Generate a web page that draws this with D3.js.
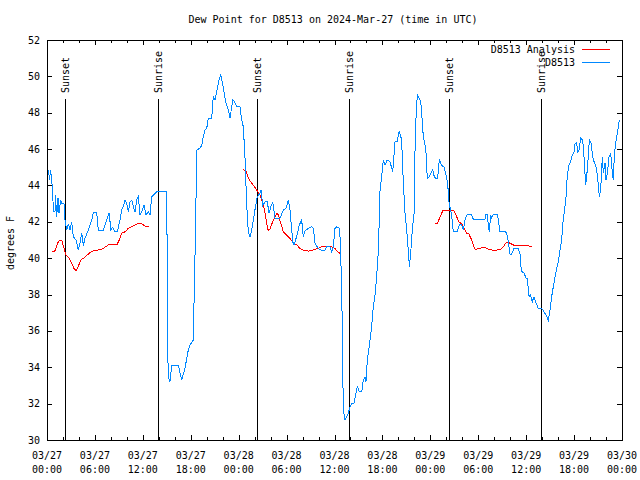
<!DOCTYPE html>
<html><head><meta charset="utf-8">
<script src="https://cdn.jsdelivr.net/npm/d3@7"></script>
<style>
body{margin:0;background:#fff}
svg text{font-family:"DejaVu Sans Mono","Liberation Mono",monospace;font-size:10px;fill:#000}
</style>
</head><body>
<svg id="chart" width="640" height="480"></svg>
<script>
// ---- data (hours since 2024-03-27 00:00 UTC) ----
const stationHours = [0.06,0.19,0.31,0.44,0.59,0.69,0.81,1.0,1.06,1.21,1.38,1.5,1.72,1.88,2.13,2.25,2.47,2.67,2.88,3.09,3.29,3.63,3.92,4.13,4.35,4.55,4.76,5.17,5.6,5.8,6.22,6.42,7.05,7.48,7.8,7.98,8.23,8.51,8.8,9.14,9.35,9.55,9.77,9.98,10.18,10.39,10.61,10.81,11.02,11.23,11.43,11.65,11.86,12.15,12.4,12.68,12.9,13.11,13.31,13.74,14.99,15.03,15.06,15.19,15.4,15.61,16.44,16.87,17.28,17.69,17.91,18.32,18.44,18.6,18.75,19.16,19.37,19.57,19.78,20.0,20.2,20.62,20.82,21.04,21.32,21.54,21.75,21.95,22.16,22.38,22.7,22.92,23.04,23.25,23.5,23.75,24.17,24.38,24.58,24.79,25.0,25.21,25.42,25.63,25.83,26.17,26.33,26.67,26.8,27.01,27.3,27.59,27.8,28.01,28.26,28.55,29.18,29.59,29.93,30.22,30.43,30.77,30.93,31.27,31.59,31.89,32.09,32.31,32.72,33.15,33.35,33.56,33.97,34.27,34.81,35.02,35.44,35.65,35.85,36.06,36.27,36.6,36.69,36.9,37.03,37.1,37.32,37.53,37.73,37.94,38.16,38.44,38.69,38.86,39.11,39.41,39.61,39.82,39.94,40.11,40.32,40.53,40.66,40.86,41.07,41.28,41.49,41.61,41.7,41.91,42.11,42.32,42.61,42.95,43.29,43.58,43.86,44.08,44.29,44.42,44.62,44.83,45.04,45.24,45.37,45.54,45.74,45.96,45.99,46.21,46.37,46.58,46.8,46.92,47.12,47.33,47.46,47.62,47.84,48.08,48.3,48.5,48.71,48.92,49.12,49.42,49.71,49.92,50.17,50.25,50.37,50.55,50.68,50.88,51.38,51.63,51.93,52.13,52.34,52.55,52.97,53.18,53.38,54.85,54.97,55.14,55.26,55.38,55.56,55.68,55.88,56.39,56.51,56.72,57.35,57.56,57.76,57.98,58.19,58.48,59.02,59.23,59.35,59.44,59.73,59.98,60.19,60.26,60.39,60.56,60.76,60.98,61.19,61.52,61.94,62.23,62.48,62.77,62.98,63.19,63.4,63.61,63.82,64.02,64.24,64.45,64.57,64.78,64.99,65.15,65.36,65.58,65.78,65.99,66.12,66.33,66.45,66.65,66.83,67.08,67.24,67.45,67.58,67.78,67.91,68.12,68.33,68.5,68.75,68.96,69.16,69.33,69.54,69.66,69.87,70.0,70.21,70.37,70.59,70.79,70.91,71.04,71.21,71.41,71.54,71.66];
const stationValues = [44.7,44.85,44.3,44.85,44.3,43.75,42.55,42.55,43.47,42.28,43.3,42.5,43.2,43.0,43.0,42.1,41.55,41.9,41.55,41.97,41.2,41.0,40.45,40.8,41.4,40.7,41.1,41.55,42.1,42.5,42.5,41.55,41.55,42.1,42.5,41.55,41.7,41.45,41.45,42.1,42.65,42.83,43.2,43.0,42.55,43.1,43.2,42.83,42.55,43.2,43.38,42.37,42.55,42.9,42.37,42.55,42.37,43.38,43.47,43.65,43.65,41.2,36.14,33.48,33.2,34.12,34.12,33.3,33.96,34.95,35.22,35.5,38.25,41.55,45.95,46.05,46.2,46.68,47.05,47.14,47.7,47.7,48.88,48.7,49.34,49.8,50.07,49.7,49.16,48.6,48.15,47.7,48.06,48.7,48.6,48.33,48.33,47.6,47.23,45.58,43.0,41.4,41.18,41.55,42.1,43.0,43.38,43.57,43.75,42.9,43.1,43.1,42.47,42.8,43.1,42.2,42.2,42.65,42.75,43.2,42.65,40.9,40.73,41.2,41.83,42.1,41.18,41.5,41.64,41.73,41.64,40.82,40.54,40.45,40.45,40.63,40.63,40.36,40.63,41.64,41.73,41.64,41.18,38.43,34.12,31.65,31.1,31.28,31.47,31.83,32.02,32.02,32.57,32.93,32.66,32.66,33.3,33.48,33.2,34.4,35.04,35.77,36.32,37.33,37.97,38.98,40.36,42.2,43.75,44.48,45.4,45.12,45.4,45.3,44.76,46.41,46.41,46.96,46.77,46.32,44.12,42.47,41.55,40.45,39.53,40.27,41.55,42.47,44.48,47.78,48.97,48.79,48.6,47.97,46.68,46.22,45.77,44.39,44.48,44.67,44.85,44.48,44.39,44.39,45.4,45.12,45.0,44.67,44.12,43.6,42.93,42.65,42.28,41.46,41.46,41.83,41.83,41.55,42.1,42.37,42.4,42.37,42.14,42.14,42.4,42.4,41.83,41.46,42.37,42.2,42.4,42.4,42.14,41.46,41.46,41.4,40.9,40.23,40.23,40.54,40.54,40.23,39.53,39.26,39.2,38.9,38.9,38.16,37.88,37.97,37.6,37.88,37.6,37.24,37.24,37.06,36.87,36.6,37.15,37.88,38.43,38.98,39.44,39.8,40.45,41.0,41.83,42.55,43.38,44.57,45.12,45.31,45.67,45.86,46.32,46.35,45.77,46.0,46.6,46.5,45.58,44.03,44.5,45.58,46.5,46.32,45.58,45.31,45.03,44.39,43.38,43.75,45.58,44.67,45.22,44.3,44.8,45.58,45.77,44.67,44.3,45.67,46.32,46.87,47.23,47.6];
const analysisHours = [0.59,1.0,1.41,1.63,1.88,2.13,2.38,2.79,3.09,3.38,3.63,3.92,4.22,4.55,4.97,5.38,5.8,6.42,6.85,7.26,7.68,8.3,8.8,9.14,9.35,9.77,10.18,10.81,11.43,11.86,12.27,12.81,
  18.0,
  24.58,24.92,25.08,25.42,25.83,26.26,26.67,27.09,27.3,27.51,27.71,27.92,28.34,28.76,28.97,29.27,29.59,30.02,30.43,30.84,31.27,31.68,32.09,32.72,33.35,33.97,34.4,35.65,36.06,36.35,36.69,36.81,
  42.0,
  48.59,48.87,49.21,49.55,50.05,50.88,51.09,51.3,51.63,51.93,52.21,52.55,52.8,53.18,53.38,53.59,54.01,54.44,54.85,55.26,55.68,56.31,56.85,57.14,57.43,57.76,58.06,58.48,59.23,60.07,60.69];
const analysisValues = [40.36,40.4,40.9,41.0,40.95,40.54,40.17,39.99,39.72,39.44,39.31,39.55,39.9,39.99,40.15,40.3,40.41,40.45,40.5,40.6,40.73,40.75,40.77,41.09,41.37,41.45,41.64,41.79,41.92,41.9,41.77,41.75,
  null,
  44.88,44.8,44.57,44.25,44.02,43.75,43.47,42.93,42.47,41.92,41.51,41.6,42.1,42.47,42.4,41.92,41.46,41.27,41.09,40.85,40.73,40.54,40.45,40.39,40.45,40.54,40.63,40.63,40.54,40.36,40.27,40.27,
  null,
  41.88,41.92,42.25,42.61,42.65,42.65,42.5,42.28,41.95,41.92,41.64,41.37,41.35,41.0,40.73,40.49,40.52,40.58,40.58,40.49,40.45,40.45,40.49,40.63,40.82,40.87,40.8,40.71,40.71,40.69,40.65];
const sunEventHours = [2.29,13.94,26.34,37.86,50.38,61.9];
const sunEventLabels = ["Sunset","Sunrise","Sunset","Sunrise","Sunset","Sunrise"];
const sunLineTop = 48.75;
const yTickValues = [30,32,34,36,38,40,42,44,46,48,50,52];
const seriesNames = ["D8513 Analysis","D8513"];
const seriesColors = ["#ff0000","#0088ff"];
const titleText = "Dew Point for D8513 on 2024-Mar-27 (time in UTC)";
const yLabelText = "degrees F";

// ---- layout ----
const L = 47, R = 622, T = 40, B = 440;
const t0 = Date.UTC(2024,2,27,0,0);
const toDate = h => new Date(t0 + h*3600e3);

const x = d3.scaleUtc().domain([toDate(0), toDate(72)]).range([L, R]);
const y = d3.scaleLinear().domain([30, 52]).range([B, T]);

const svg = d3.select("#chart");
svg.append("rect").attr("width",640).attr("height",480).attr("fill","#fff");

// title
svg.append("text").attr("x", 333).attr("y", 23).attr("text-anchor","middle").text(titleText);

// y label
svg.append("text").attr("transform","translate(14,243) rotate(-90)")
  .attr("text-anchor","middle").text(yLabelText);

// axes via d3
const majorTicks = d3.range(0, 73, 6).map(toDate);
const minorTicks = d3.range(0, 73, 2).filter(h => h % 6 !== 0).map(toDate);
const fmtD = d3.utcFormat("%m/%d"), fmtH = d3.utcFormat("%H:%M");

function styleAxis(g){
  g.select(".domain").remove();
  g.selectAll("line").attr("stroke","#000").attr("shape-rendering","crispEdges");
  g.selectAll("text").remove();
}
svg.append("g").attr("transform",`translate(0,${B})`)
  .call(d3.axisTop(x).tickValues(majorTicks).tickSize(5)).call(styleAxis);
svg.append("g").attr("transform",`translate(0,${B})`)
  .call(d3.axisTop(x).tickValues(minorTicks).tickSize(3)).call(styleAxis);
svg.append("g").attr("transform",`translate(0,${T})`)
  .call(d3.axisBottom(x).tickValues(majorTicks).tickSize(5)).call(styleAxis);
svg.append("g").attr("transform",`translate(0,${T})`)
  .call(d3.axisBottom(x).tickValues(minorTicks).tickSize(3)).call(styleAxis);
svg.append("g").attr("transform",`translate(${L},0)`)
  .call(d3.axisRight(y).tickValues(yTickValues).tickSize(5)).call(styleAxis);
svg.append("g").attr("transform",`translate(${R},0)`)
  .call(d3.axisLeft(y).tickValues(yTickValues).tickSize(5)).call(styleAxis);

// tick labels
const xl = svg.append("g");
majorTicks.forEach(d => {
  xl.append("text").attr("x", x(d)).attr("y", 459).attr("text-anchor","middle").text(fmtD(d));
  xl.append("text").attr("x", x(d)).attr("y", 473).attr("text-anchor","middle").text(fmtH(d));
});
const yl = svg.append("g");
yTickValues.forEach(v => {
  yl.append("text").attr("x", 40).attr("y", y(v)).attr("dy","0.35em").attr("text-anchor","end").text(v);
});

// sun event lines
sunEventHours.forEach((h,i) => {
  const xx = Math.round(x(toDate(h))) + 0.5;
  svg.append("line").attr("x1",xx).attr("x2",xx).attr("y1",B).attr("y2",y(sunLineTop))
    .attr("stroke","#000").attr("stroke-width",1).attr("shape-rendering","crispEdges");
  svg.append("text").attr("transform",`translate(${xx},${y(sunLineTop)-6}) rotate(-90)`)
    .attr("dy","0.35em").attr("text-anchor","start").text(sunEventLabels[i]);
});

// series
const line = d3.line().defined(d => d.v !== null).x(d => x(toDate(d.h))).y(d => y(d.v));
const analysis = analysisHours.map((h,i) => ({h, v: analysisValues[i]}));
const station = stationHours.map((h,i) => ({h, v: stationValues[i]}));
svg.append("path").datum(analysis).attr("d", line).attr("fill","none")
  .attr("stroke", seriesColors[0]).attr("stroke-width",1).attr("shape-rendering","crispEdges");
svg.append("path").datum(station).attr("d", line).attr("fill","none")
  .attr("stroke", seriesColors[1]).attr("stroke-width",1).attr("shape-rendering","crispEdges");

// legend
seriesNames.forEach((n,i) => {
  const yy = 49 + i*13;
  svg.append("text").attr("x", 575).attr("y", yy).attr("dy","0.35em").attr("text-anchor","end").text(n);
  svg.append("line").attr("x1",582).attr("x2",610).attr("y1",yy+0.5).attr("y2",yy+0.5)
    .attr("stroke", seriesColors[i]).attr("stroke-width",1).attr("shape-rendering","crispEdges");
});

// frame
svg.append("rect").attr("x",L+0.5).attr("y",T+0.5).attr("width",R-L).attr("height",B-T)
  .attr("fill","none").attr("stroke","#000").attr("shape-rendering","crispEdges");
</script>
</body></html>
